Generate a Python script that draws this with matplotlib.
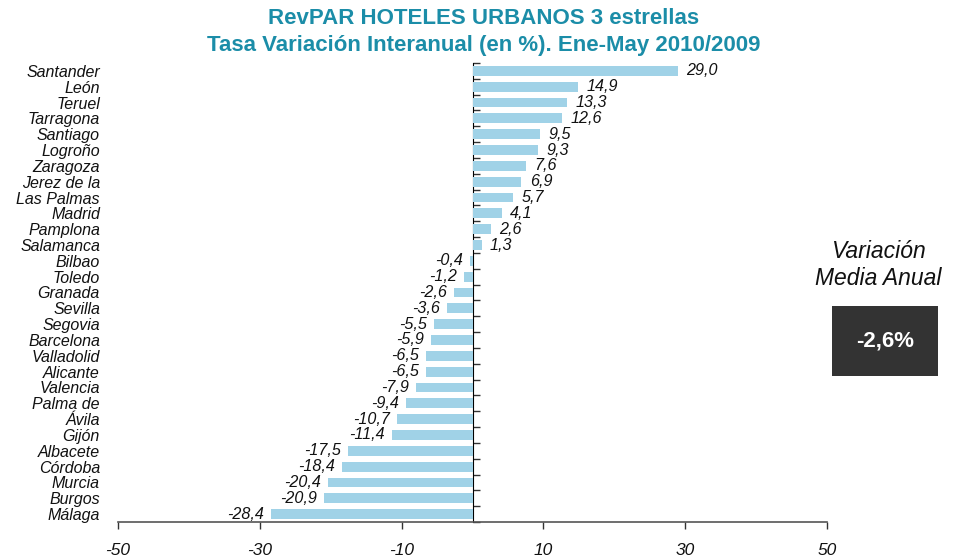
import matplotlib
matplotlib.use("Agg")
import matplotlib.pyplot as plt
import numpy as np

cities = ["Santander", "León", "Teruel", "Tarragona", "Santiago", "Logroño", "Zaragoza",
          "Jerez de la", "Las Palmas", "Madrid", "Pamplona", "Salamanca", "Bilbao", "Toledo",
          "Granada", "Sevilla", "Segovia", "Barcelona", "Valladolid", "Alicante", "Valencia",
          "Palma de", "Ávila", "Gijón", "Albacete", "Córdoba", "Murcia", "Burgos", "Málaga"]
values = [29.0, 14.9, 13.3, 12.6, 9.5, 9.3, 7.6, 6.9, 5.7, 4.1, 2.6, 1.3, -0.4, -1.2,
          -2.6, -3.6, -5.5, -5.9, -6.5, -6.5, -7.9, -9.4, -10.7, -11.4, -17.5, -18.4,
          -20.4, -20.9, -28.4]
xticks = [-50, -30, -10, 10, 30, 50]
title_lines = ["RevPAR HOTELES URBANOS 3 estrellas",
               "Tasa Variación Interanual (en %). Ene-May 2010/2009"]
media_label = "Variación\nMedia Anual"
media_value = "-2,6%"

plt.rcParams['font.family'] = ['Liberation Sans', 'DejaVu Sans']

fig = plt.figure(figsize=(9.67, 5.6), dpi=100)
ax = fig.add_axes([118/967, 1-522/560, (827-118)/967, (522-63)/560])

n = len(cities)
y = np.arange(n)
ax.barh(y, values, height=0.62, color='#A0D2E7', zorder=2)
ax.set_ylim(n-0.5, -0.5)
ax.set_xlim(-50, 50)

for yi, v in zip(y, values):
    s = f"{v:.1f}".replace('.', ',')
    if v >= 0:
        ax.annotate(s, (v, yi), xytext=(6, 0), textcoords='offset points',
                    ha='left', va='center', fontsize=11.6, style='italic', color='#111111')
    else:
        ax.annotate(s, (v, yi), xytext=(-5, 0), textcoords='offset points',
                    ha='right', va='center', fontsize=11.6, style='italic', color='#111111')

ax.set_yticks(y)
ax.set_yticklabels(cities, fontsize=11.5, style='italic', color='#111111')
ax.tick_params(axis='y', length=0, pad=13)
ax.spines['left'].set_visible(False)
ax.spines['right'].set_visible(False)
ax.spines['top'].set_visible(False)
ax.spines['bottom'].set_color('#555555')
ax.spines['bottom'].set_linewidth(1.2)

ax.set_xticks(xticks)
ax.set_xticklabels([str(t) for t in xticks], fontsize=12.5, style='italic', color='#111111')
ax.tick_params(axis='x', length=5, width=1, color='#333333', pad=10)

sec = ax.secondary_yaxis(0.5)
sec.set_yticks(np.arange(n+1) - 0.5)
sec.set_yticklabels([])
sec.tick_params(axis='y', length=5, width=1, color='#333333', direction='out')
sec.spines['left'].set_color('black')
sec.spines['left'].set_linewidth(1.2)

title_color = '#1B8DA8'
fig.text(0.5, 1-18/560, title_lines[0], ha='center', va='center', fontsize=16,
         fontweight='bold', color=title_color)
fig.text(0.5, 1-46/560, title_lines[1], ha='center', va='center', fontsize=16,
         fontweight='bold', color=title_color)

fig.text(878/967, 1-265/560, media_label, ha='center', va='center', fontsize=16.5,
         style='italic', color='#111111', linespacing=1.2)
fig.text(885/967, 1-341/560, media_value, ha='center', va='center', fontsize=16,
         fontweight='bold', color='white',
         bbox=dict(boxstyle='square,pad=1.1', facecolor='#333333', edgecolor='none'))

fig.savefig('out.png', dpi=100)
